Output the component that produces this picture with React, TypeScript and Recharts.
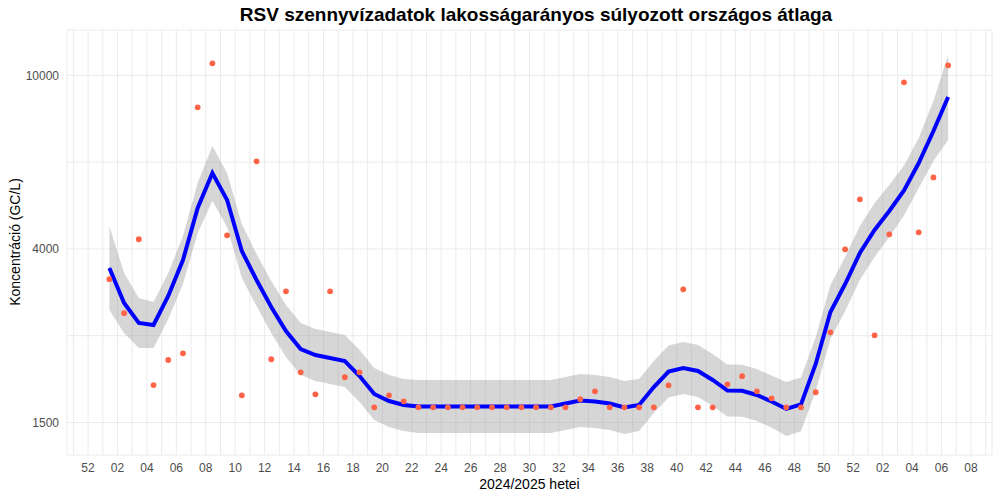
import {
  ComposedChart, Area, Line, Scatter,
  XAxis, YAxis, CartesianGrid
} from 'recharts';

// Weekly samples, 2024-W01 ... 2025-W06
const sampleWeeks = [
  '2024-01', '2024-02', '2024-03', '2024-04', '2024-05', '2024-06', '2024-07', '2024-08',
  '2024-09', '2024-10', '2024-11', '2024-12', '2024-13', '2024-14', '2024-15', '2024-16',
  '2024-17', '2024-18', '2024-19', '2024-20', '2024-21', '2024-22', '2024-23', '2024-24',
  '2024-25', '2024-26', '2024-27', '2024-28', '2024-29', '2024-30', '2024-31', '2024-32',
  '2024-33', '2024-34', '2024-35', '2024-36', '2024-37', '2024-38', '2024-39', '2024-40',
  '2024-41', '2024-42', '2024-43', '2024-44', '2024-45', '2024-46', '2024-47', '2024-48',
  '2024-49', '2024-50', '2024-51', '2024-52', '2025-01', '2025-02', '2025-03', '2025-04',
  '2025-05', '2025-06'
];

// measured concentration (GC/L)
const measured = [
  3390, 2830, 4190, 1933, 2208, 2288, 8439, 10656, 4279, 1831,
  6337, 2217, 3178, 2068, 1840, 3178, 2015, 2068, 1718, 1831,
  1773, 1718, 1718, 1718, 1718, 1718, 1718, 1718, 1718, 1718,
  1718, 1718, 1793, 1870, 1718, 1718, 1718, 1718, 1930, 3213,
  1718, 1718, 1941, 2026, 1870, 1802, 1718, 1718, 1861, 2557,
  3973, 5178, 2517, 4301, 9636, 4346, 5818, 10546
];

// smoothed trend and its confidence band (GC/L)
const fitted = [
  3597, 2988, 2687, 2659, 3101, 3753, 4946, 5955, 5160, 3937,
  3375, 2924, 2575, 2340, 2267, 2232, 2196, 2028, 1844, 1776,
  1739, 1726, 1726, 1726, 1726, 1726, 1726, 1726, 1726, 1726,
  1726, 1753, 1781, 1772, 1753, 1716, 1739, 1913, 2077, 2117,
  2083, 1986, 1878, 1876, 1834, 1772, 1703, 1744, 2162, 2848,
  3304, 3895, 4401, 4868, 5428, 6280, 7442, 8913
];
const fitLower = [
  2879, 2548, 2353, 2353, 2745, 3304, 4331, 5133, 4473, 3411,
  2940, 2548, 2243, 2039, 1975, 1944, 1913, 1767, 1606, 1547,
  1515, 1499, 1499, 1499, 1499, 1499, 1499, 1499, 1499, 1499,
  1499, 1523, 1547, 1539, 1523, 1491, 1515, 1667, 1810, 1844,
  1815, 1730, 1636, 1635, 1598, 1543, 1475, 1512, 1874, 2469,
  2863, 3375, 3813, 4241, 4754, 5499, 6346, 7094
];
const fitUpper = [
  4496, 3503, 3069, 3004, 3503, 4263, 5647, 6875, 5955, 4544,
  3874, 3357, 2956, 2687, 2602, 2562, 2521, 2328, 2117, 2039,
  1996, 1986, 1986, 1986, 1986, 1986, 1986, 1986, 1986, 1986,
  1986, 2017, 2049, 2039, 2017, 1975, 1996, 2196, 2384, 2429,
  2391, 2279, 2156, 2154, 2105, 2033, 1965, 2013, 2495, 3287,
  3813, 4496, 5079, 5587, 6197, 7170, 8726, 11136
];

const xTickLabels = [
  '52', '02', '04', '06', '08', '10', '12', '14', '16', '18', '20', '22', '24', '26', '28', '30',
  '32', '34', '36', '38', '40', '42', '44', '46', '48', '50', '52', '02', '04', '06', '08'
];
const yTickLabels = ['1500', '', '4000', '', '10000'];
const yTickPos = [3.2, 3.4, 3.6, 3.8, 4.0];

// x = weeks since 2023-W52, samples sit mid-week
const rows = sampleWeeks.map((w, i) => ({
  week: w,
  t: i + 1.45,
  val: Math.log10(measured[i]),
  fit: Math.log10(fitted[i]),
  band: [Math.log10(fitLower[i]), Math.log10(fitUpper[i])],
}));

const xTicks = Array.from({ length: 63 }, (_, i) => i - 1);

const font = '"Liberation Sans", Arial, sans-serif';

const Dot = (props: any) => {
  const { cx, cy } = props;
  if (cx == null || cy == null) return null;
  return <circle cx={cx} cy={cy} r={2.9} fill="#FF6347" />;
};

export default function App() {
  return (
    <div style={{ position: 'absolute', left: 0, top: 0, width: 1000, height: 500, background: '#fff', fontFamily: font }}>
      <div style={{ position: 'absolute', left: 0, width: 1072, top: 4, textAlign: 'center', fontWeight: 'bold', fontSize: 19, color: '#000' }}>
        RSV szennyvízadatok lakosságarányos súlyozott országos átlaga
      </div>
      <div style={{ position: 'absolute', left: 0, width: 1059, top: 476, textAlign: 'center', fontSize: 14, color: '#000' }}>
        2024/2025 hetei
      </div>
      <div style={{
        position: 'absolute', left: 15, top: 242, fontSize: 14, color: '#000', whiteSpace: 'nowrap',
        transform: 'translate(-50%, -50%) rotate(-90deg)'
      }}>
        Koncentráció (GC/L)
      </div>
      <ComposedChart width={1000} height={500} data={rows} margin={{ top: 30, right: 8, bottom: 0, left: 0 }}>
        <CartesianGrid stroke="#EBEBEB" strokeWidth={1} />
        <XAxis
          dataKey="t" type="number" domain={[-1.43, 61.43]} allowDataOverflow
          ticks={xTicks} interval={0} height={45}
          axisLine={false} tickLine={false}
          tick={{ fill: '#4D4D4D', fontSize: 12, fontFamily: font }}
          tickFormatter={(v: number) => (v >= 0 && v % 2 === 0 ? xTickLabels[v / 2] : '')}
        />
        <YAxis
          type="number" domain={[3.1251, 4.1044]} allowDataOverflow
          ticks={yTickPos} interval={0} width={67}
          axisLine={false} tickLine={false}
          tick={{ fill: '#4D4D4D', fontSize: 12, fontFamily: font }}
          tickFormatter={(v: number) => yTickLabels[yTickPos.findIndex(p => Math.abs(p - v) < 1e-6)] ?? ''}
        />
        <Area dataKey="band" type="linear" stroke="none" fill="#999999" fillOpacity={0.4} isAnimationActive={false} />
        <Line dataKey="fit" type="linear" stroke="#0000FF" strokeWidth={4} dot={false} isAnimationActive={false} />
        <Scatter dataKey="val" shape={<Dot />} isAnimationActive={false} />
      </ComposedChart>
    </div>
  );
}
